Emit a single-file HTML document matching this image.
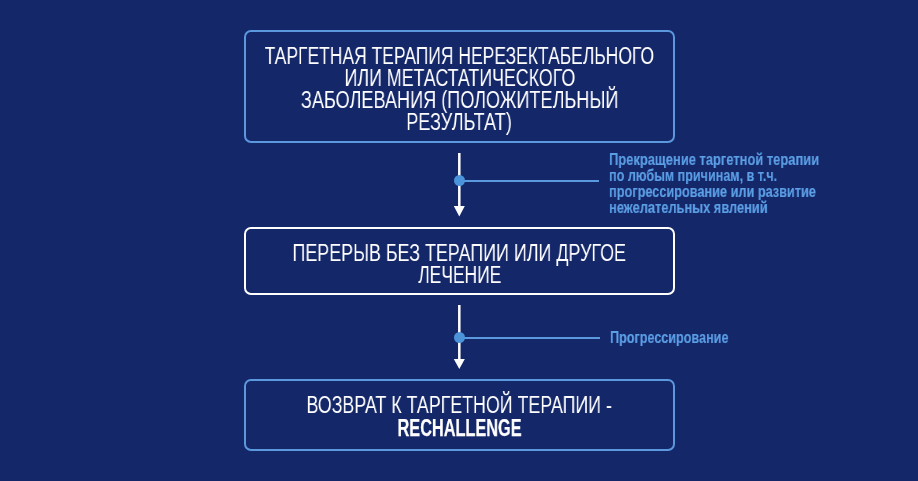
<!DOCTYPE html>
<html><head><meta charset="utf-8">
<style>
html,body{margin:0;padding:0;}
body{width:918px;height:481px;background:#142769;position:relative;overflow:hidden;font-family:"Liberation Sans",sans-serif;}
.box{position:absolute;box-sizing:border-box;border:2px solid #5b98de;border-radius:7px;}
.wb{border-color:#ffffff;}
.ln{position:absolute;left:59.5px;width:800px;text-align:center;color:#ffffff;font-size:23px;line-height:23px;height:23px;white-space:nowrap;}
.ln span{display:inline-block;transform-origin:50% 50%;will-change:transform;}
.b{font-weight:700;-webkit-text-stroke:0.25px #fff;}
.vl{position:absolute;background:#fff;}
.dot{position:absolute;border-radius:50%;background:#4c94da;}
.hl{position:absolute;background:#5b98de;}
.tri{position:absolute;width:0;height:0;}
.st{position:absolute;color:#5c9fe6;-webkit-text-stroke:0.2px #5c9fe6;font-weight:700;font-size:16px;line-height:16px;height:16px;white-space:nowrap;}
.st span{display:inline-block;transform-origin:0 50%;will-change:transform;}
</style></head><body>
<div class="box" style="left:244px;top:30px;width:431px;height:113px"></div>
<div class="box wb" style="left:244px;top:227px;width:431px;height:68px"></div>
<div class="box" style="left:244px;top:379px;width:431px;height:72px"></div>
<div class="ln" style="top:45px"><span style="transform:scaleX(0.7596)">ТАРГЕТНАЯ ТЕРАПИЯ НЕРЕЗЕКТАБЕЛЬНОГО</span></div>
<div class="ln" style="top:67px"><span style="transform:scaleX(0.7746)">ИЛИ МЕТАСТАТИЧЕСКОГО</span></div>
<div class="ln" style="top:89px"><span style="transform:scaleX(0.7873)">ЗАБОЛЕВАНИЯ (ПОЛОЖИТЕЛЬНЫЙ</span></div>
<div class="ln" style="top:111px"><span style="transform:scaleX(0.7878)">РЕЗУЛЬТАТ)</span></div>
<div class="ln" style="top:242px"><span style="transform:scaleX(0.7784)">ПЕРЕРЫВ БЕЗ ТЕРАПИИ ИЛИ ДРУГОЕ</span></div>
<div class="ln" style="top:264px"><span style="transform:scaleX(0.7578)">ЛЕЧЕНИЕ</span></div>
<div class="ln" style="top:394px"><span style="transform:scaleX(0.7742)">ВОЗВРАТ К ТАРГЕТНОЙ ТЕРАПИИ -</span></div>
<div class="ln b" style="top:417px"><span style="transform:scaleX(0.7081)">RECHALLENGE</span></div>
<svg style="position:absolute;left:0;top:0" width="918" height="481"><rect x="458.05" y="153" width="2.5" height="54" fill="#fff"/></svg>
<div class="hl" style="left:459.3px;top:180px;height:2px;width:139.7px"></div>
<div class="dot" style="left:453.8px;top:175.0px;width:11px;height:11px"></div>
<svg style="position:absolute;left:0;top:0" width="918" height="481"><polygon points="453.8,206 464.8,206 459.3,216.5" fill="#fff"/></svg>
<svg style="position:absolute;left:0;top:0" width="918" height="481"><rect x="458.05" y="305" width="2.5" height="55" fill="#fff"/></svg>
<div class="hl" style="left:459.3px;top:337px;height:2px;width:140.7px"></div>
<div class="dot" style="left:453.8px;top:332.0px;width:11px;height:11px"></div>
<svg style="position:absolute;left:0;top:0" width="918" height="481"><polygon points="453.8,359 464.8,359 459.3,369" fill="#fff"/></svg>
<div class="st" style="left:608.69px;top:152px"><span style="transform:scaleX(0.8073)">Прекращение таргетной терапии</span></div>
<div class="st" style="left:608.71px;top:168px"><span style="transform:scaleX(0.7858)">по любым причинам, в т.ч.</span></div>
<div class="st" style="left:608.71px;top:184px"><span style="transform:scaleX(0.795)">прогрессирование или развитие</span></div>
<div class="st" style="left:608.7px;top:200px"><span style="transform:scaleX(0.801)">нежелательных явлений</span></div>
<div class="st" style="left:609.81px;top:330px"><span style="transform:scaleX(0.7879)">Прогрессирование</span></div>
</body></html>
